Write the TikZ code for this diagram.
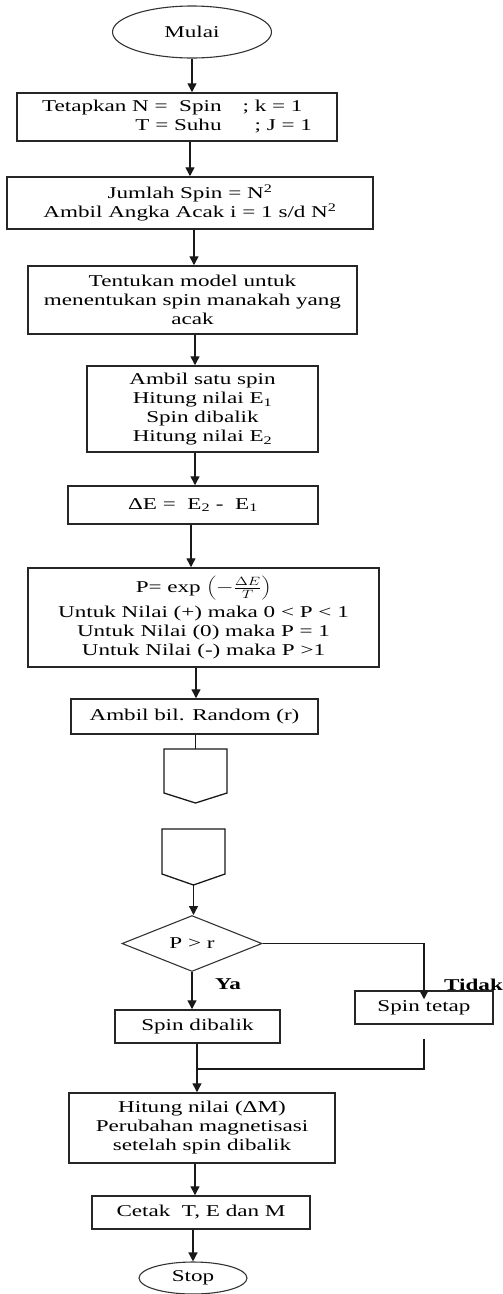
\documentclass[tikz,border=0pt]{standalone}
\usepackage{fontspec}
\setmainfont{Liberation Serif}[FakeStretch=1.4]
\usepackage{graphicx}
\usetikzlibrary{shapes.geometric,arrows.meta,calc}
\begin{document}
\begin{tikzpicture}[x=1pt,y=-1pt,
  every node/.style={font=\fontsize{16.5}{19}\selectfont, text=black},
  pbox/.style={draw=black!85, line width=1.5pt, rectangle, inner sep=0pt, align=center},
  term/.style={draw=black!80, line width=1.1pt, ellipse, inner sep=0pt},
  arr/.style={draw=black!90, line width=1.4pt, -{Triangle[length=9pt,width=9pt]}},
  ln/.style={draw=black!90, line width=1.4pt},
  lbl/.style={font=\bfseries\fontsize{16.5}{19}\selectfont}
]
\useasboundingbox (0,0) rectangle (503,1294);

% terminals and process boxes
\node[term, minimum width=159pt, minimum height=52pt] (mulai) at (192,32) {Mulai};
\node[pbox, minimum width=320pt, minimum height=48pt] (b1) at (177,117)
  {\begin{tabular}{@{}r@{\hspace{21pt}}l@{}}Tetapkan N = \ Spin & ; k = 1\\ T = Suhu & \hspace{12pt}; J = 1\end{tabular}};
\node[pbox, minimum width=366pt, minimum height=52pt] (b2) at (190,203)
  {Jumlah Spin = N\textsuperscript{2}\\ Ambil Angka Acak i = 1 s/d N\textsuperscript{2}};
\node[pbox, minimum width=329pt, minimum height=68pt] (b3) at (192.5,300)
  {Tentukan model untuk\\ menentukan spin manakah yang\\ acak};
\node[pbox, minimum width=231pt, minimum height=86pt] (b4) at (202.5,409)
  {Ambil satu spin\\ Hitung nilai E\textsubscript{1}\\ Spin dibalik\\ Hitung nilai E\textsubscript{2}};
\node[pbox, minimum width=250pt, minimum height=38pt] (b5) at (193,505)
  {ΔE = \ E\textsubscript{2} - \ E\textsubscript{1}};
\node[pbox, minimum width=351pt, minimum height=99pt] (b6) at (203.5,617.5)
  {P= exp \scalebox{1.3}[1]{$\left(-\frac{\Delta E}{T}\right)$}\\[5pt]
   Untuk Nilai (+) maka 0 < P < 1\\ Untuk Nilai (0) maka P = 1\\ Untuk Nilai (-) maka P >1};
\node[pbox, minimum width=247pt, minimum height=35pt] (b7) at (194.5,716.5)
  {Ambil bil. Random (r)};

% off-page connectors
\draw[ln, line width=1.3pt] (164,749) -- (227,749) -- (227,793) -- (195.5,803) -- (164,793) -- cycle;
\coordinate (off1) at (195.5,749);
\draw[ln, line width=1.3pt] (162,829) -- (225,829) -- (225,874) -- (193.5,885) -- (162,874) -- cycle;
\coordinate (off2) at (193.5,885);

% decision
\node[draw=black!80, line width=1.1pt, diamond, minimum width=140pt, minimum height=53pt, inner sep=0pt]
  (dec) at (192,943.5) {P > r};
\node[pbox, minimum width=165pt, minimum height=33pt] (dib) at (197.5,1026.5) {Spin dibalik};
\node[pbox, minimum width=138pt, minimum height=33pt] (tet) at (424,1007.5) {Spin tetap};
\node[lbl, anchor=west, inner sep=0pt] (ya) at (215,984) {Ya};
\node[lbl, anchor=west, inner sep=0pt] (tidak) at (444,985) {Tidak};
\coordinate (join) at (197,1069);

\node[pbox, minimum width=266pt, minimum height=70pt] (hit) at (202,1128)
  {Hitung nilai (ΔM)\\ Perubahan magnetisasi\\ setelah spin dibalik};
\node[pbox, minimum width=218pt, minimum height=33pt] (cet) at (201,1212.5)
  {Cetak \ T, E dan M};
\node[term, minimum width=108pt, minimum height=32pt] (stop) at (193,1278) {Stop};

% connectors
\draw[arr] (mulai.south) -- (b1.north -| mulai.south);
\draw[arr] (b1.south -| b2.north) -- (b2.north);
\draw[arr] (b2.south -| 194,0) -- (b3.north -| 194,0);
\draw[arr] (b3.south -| 195,0) -- (b4.north -| 195,0);
\draw[arr] (b4.south -| 195,0) -- (b5.north -| 195,0);
\draw[arr] (b5.south -| 191,0) -- (b6.north -| 191,0);
\draw[arr] (b6.south -| 196,0) -- (b7.north -| 196,0);
\draw[ln] (b7.south -| off1) -- (off1);
\draw[arr] (off2) -- (dec.north -| off2);
\draw[arr] (dec.south) -- (dib.north -| dec.south);
\draw[arr] (dec.east) -| ([yshift=-9pt]tet.north);
\draw[ln] (dib.south -| join) -- (join);
\draw[ln] ([yshift=-14pt]tet.south) |- (join);
\draw[arr] (join) -- (hit.north -| join);
\draw[arr] (hit.south -| 195,0) -- (cet.north -| 195,0);
\draw[arr] (cet.south -| stop.north) -- (stop.north);
\end{tikzpicture}
\end{document}
